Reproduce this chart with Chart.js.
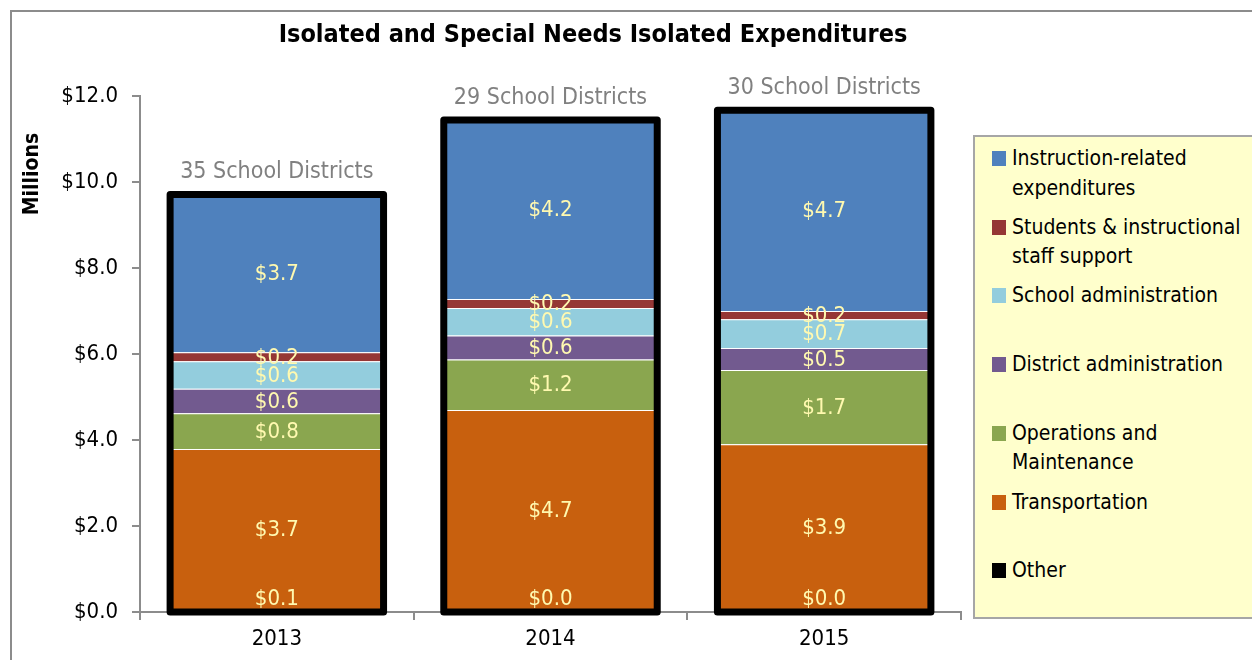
<!DOCTYPE html>
<html>
<head>
<meta charset="utf-8">
<script src="https://cdn.jsdelivr.net/npm/chart.js@4.4.1/dist/chart.umd.min.js"></script>
<style>
  html, body { margin: 0; padding: 0; background: #fff; }
  #wrap { position: relative; width: 1252px; height: 660px; overflow: hidden; }
  #frame { position: absolute; left: 10px; top: 10px; width: 1300px; height: 700px; border: 2px solid #8c8c8c; box-sizing: border-box; pointer-events: none; }
  #cv { position: absolute; left: 0; top: 0; }
  #legend { position: absolute; left: 973px; top: 135px; width: 300px; height: 484px; background: #FFFFCC; border: 2px solid #A6A6A6; box-sizing: border-box; font-family: 'Liberation Sans Narrow', 'Arial Narrow', 'DejaVu Sans Condensed', sans-serif; font-size: 21px; color: #000; }
  #legend .item { position: absolute; left: 17px; height: 68px; }
  #legend .mk { position: absolute; left: 0; top: 7px; width: 14px; height: 15px; }
  #legend .tx { position: absolute; left: 20px; top: 0; width: 240px; line-height: 29.5px; white-space: normal; }
</style>
</head>
<body>
<div id="wrap">
  <canvas id="cv"></canvas>
  <div id="frame"></div>
  <div id="legend"></div>
</div>
<script>
// ---- data ----
const categories = ['2013', '2014', '2015'];
const districtCounts = ['35 School Districts', '29 School Districts', '30 School Districts'];
const seriesNames = ['Other', 'Transportation', 'Operations and Maintenance', 'District administration', 'School administration', 'Students & instructional staff support', 'Instruction-related expenditures'];
const otherVals = [0.06, 0.02, 0.02];
const transportationVals = [3.73, 4.68, 3.88];
const operationsVals = [0.83, 1.17, 1.73];
const districtAdminVals = [0.57, 0.56, 0.51];
const schoolAdminVals = [0.64, 0.64, 0.67];
const studentSupportVals = [0.21, 0.21, 0.19];
const instructionVals = [3.67, 4.16, 4.67];
const yTickValues = [0, 2, 4, 6, 8, 10, 12];

const seriesValues = [otherVals, transportationVals, operationsVals, districtAdminVals, schoolAdminVals, studentSupportVals, instructionVals];
const seriesColors = ['#000000', '#C8600E', '#8AA64F', '#725A8F', '#93CDDD', '#953735', '#4F81BD'];

const FONT = "'Liberation Sans Narrow', 'Arial Narrow', 'DejaVu Sans Condensed', sans-serif";
const W = 1186, H = 660;
const cv = document.getElementById('cv');
cv.width = W; cv.height = H;
cv.style.width = W + 'px'; cv.style.height = H + 'px';

const datasets = seriesNames.map((name, i) => ({
  label: name,
  data: seriesValues[i],
  backgroundColor: seriesColors[i],
  borderColor: 'rgba(255,255,255,0.22)',
  borderWidth: i === 0 ? 0 : { top: 1, left: 0, right: 0, bottom: 0 },
  borderSkipped: false,
  barPercentage: 0.78,
  categoryPercentage: 1.0,
  yAxisID: 'y'
}));

const outlinePlugin = {
  id: 'outlineAndLabels',
  afterDatasetsDraw(chart) {
    const ctx = chart.ctx;
    const y = chart.scales.y;
    const n = chart.data.labels.length;
    const m0 = chart.getDatasetMeta(0);
    // data labels
    ctx.save();
    ctx.font = '22px ' + FONT;
    ctx.fillStyle = '#FFF9B0';
    ctx.textAlign = 'center';
    ctx.textBaseline = 'middle';
    chart.data.datasets.forEach((ds, di) => {
      const meta = chart.getDatasetMeta(di);
      meta.data.forEach((el, i) => {
        const v = ds.data[i];
        let cy = (el.y + el.base) / 2;
        cy = Math.min(cy, y.getPixelForValue(0) - 14);
        ctx.fillText('$' + v.toFixed(1), el.x, cy + 1);
      });
    });
    ctx.restore();
    // outlines + district counts
    ctx.save();
    for (let i = 0; i < n; i++) {
      let total = 0;
      chart.data.datasets.forEach(ds => { total += ds.data[i]; });
      const el = m0.data[i];
      const w = el.width;
      const top = y.getPixelForValue(total);
      const bot = y.getPixelForValue(0);
      ctx.lineWidth = 7;
      ctx.lineJoin = 'round';
      ctx.strokeStyle = '#000';
      ctx.strokeRect(el.x - w / 2, top, w, bot - top);
      ctx.font = '23px ' + FONT;
      ctx.fillStyle = '#808080';
      ctx.textAlign = 'center';
      ctx.textBaseline = 'middle';
      ctx.fillText(districtCounts[i], el.x, top - 22);
    }
    // y axis title
    ctx.translate(33, 174);
    ctx.rotate(-Math.PI / 2);
    ctx.font = 'bold 21px ' + FONT;
    ctx.fillStyle = '#000';
    ctx.textAlign = 'center';
    ctx.textBaseline = 'middle';
    ctx.fillText('Millions', 0, 0);
    ctx.restore();
  }
};

const chart = new Chart(cv, {
  type: 'bar',
  data: { labels: categories, datasets: datasets },
  options: {
    responsive: false,
    animation: false,
    devicePixelRatio: 1,
    layout: { padding: 0 },
    plugins: {
      legend: { display: false },
      tooltip: { enabled: false },
      title: {
        display: true,
        text: 'Isolated and Special Needs Isolated Expenditures',
        color: '#000',
        font: { family: FONT, size: 25, weight: 'bold', lineHeight: 1.2 },
        padding: { top: 20, bottom: 46 }
      }
    },
    scales: {
      x: {
        stacked: true,
        border: { display: true, color: '#8c8c8c', width: 2 },
        grid: { display: true, drawOnChartArea: false, offset: true, tickLength: 8, color: '#8c8c8c', lineWidth: 2 },
        ticks: { color: '#000', font: { family: FONT, size: 22 }, padding: 6 },
        afterFit(s) { s.height = 48; }
      },
      y: {
        stacked: true,
        min: 0, max: 12,
        border: { display: true, color: '#8c8c8c', width: 2 },
        grid: { display: true, drawOnChartArea: false, tickLength: 8, color: '#8c8c8c', lineWidth: 2 },
        afterBuildTicks(s) { s.ticks = yTickValues.map(v => ({ value: v })); },
        ticks: { color: '#000', font: { family: FONT, size: 22 }, padding: 14,
          callback: v => '$' + Number(v).toFixed(1) },
        afterFit(s) { s.width = 140; }
      },
      // empty right-hand axis that reserves the room taken by the legend panel
      yRoom: {
        position: 'right',
        display: true,
        grid: { display: false },
        border: { display: false },
        ticks: { display: false },
        afterFit(s) { s.width = 225; }
      }
    }
  },
  plugins: [outlinePlugin]
});

// HTML legend built from the chart's datasets (top of stack first)
const lg = document.getElementById('legend');
const order = chart.data.datasets.map((d, i) => i).reverse();
order.forEach((di, k) => {
  const ds = chart.data.datasets[di];
  const it = document.createElement('div');
  it.className = 'item';
  it.style.top = (7 + k * 68.7) + 'px';
  const mk = document.createElement('div');
  mk.className = 'mk';
  mk.style.background = ds.backgroundColor;
  const tx = document.createElement('div');
  tx.className = 'tx';
  tx.textContent = ds.label;
  it.appendChild(mk); it.appendChild(tx);
  lg.appendChild(it);
});
</script>
</body>
</html>
